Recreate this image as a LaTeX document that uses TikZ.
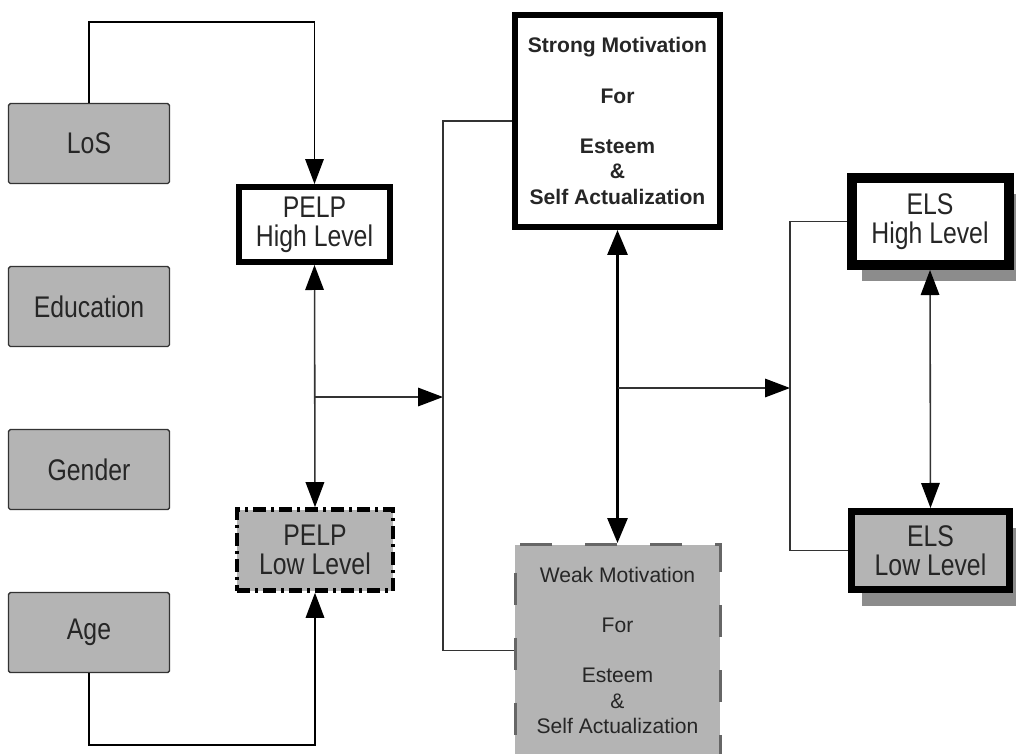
\documentclass[tikz,border=0pt]{standalone}
\usepackage{fontspec}
\setmainfont{Liberation Sans}
\newfontfamily\boxfont[FakeStretch=0.83]{Liberation Sans}
\usetikzlibrary{arrows.meta,shadows}
\definecolor{boxgray}{RGB}{180,180,180}
\definecolor{shadegray}{RGB}{140,140,140}
\begin{document}
\begin{tikzpicture}[factor style/.style={rectangle, draw=black!80, line width=0.8pt, fill=boxgray, rounded corners=1pt, minimum width=3.22cm, minimum height=1.6cm, text=black!85, font=\boxfont\fontsize{17}{16.5}\selectfont}, level style/.style={rectangle, draw, line width=3.4pt, minimum width=3.02cm, minimum height=1.5cm, align=center, text=black!85, font=\boxfont\fontsize{17}{16.5}\selectfont}, motiv style/.style={rectangle, minimum width=4.1cm, minimum height=4.24cm, align=center, text=black!85, font=\fontsize{12}{14.5}\selectfont}, els style/.style={level style, minimum width=3.14cm, drop shadow={shadow xshift=0.2cm, shadow yshift=-0.32cm, fill=shadegray, opacity=1}}, conn/.style={draw=black!80, line width=0.9pt}, tip/.style={-{Triangle[length=0.5cm, width=0.37cm, color=black]}}, both tips/.style={{Triangle[length=0.5cm, width=0.37cm, color=black]}-{Triangle[length=0.5cm, width=0.37cm, color=black]}}]
	\useasboundingbox (0,0) rectangle (20.32,-15.06);
	\node[factor style] (LoS) at (1.78, -2.87) {LoS};
	\node[factor style] (Edu) at (1.78, -6.13) {Education};
	\node[factor style] (Gen) at (1.78, -9.39) {Gender};
	\node[factor style] (Age) at (1.78, -12.65) {Age};
	\node[level style, fill=white] (PH) at (6.29, -4.49) {PELP\\High Level};
	\node[level style, fill=boxgray, line width=2.6pt, dash pattern=on 0.26cm off 0.1cm on 0.06cm off 0.1cm, minimum width=3.12cm, minimum height=1.62cm] (PL) at (6.3, -11.0) {PELP\\Low Level};
	\node[motiv style, draw, line width=3.4pt, fill=white, font=\bfseries\fontsize{12}{14.5}\selectfont] (SM) at (12.35, -2.42) {Strong Motivation\\[14pt]For\\[14pt]Esteem\\\&\\Self Actualization};
	\node[motiv style, draw=black!60, line width=1.7pt, dash pattern=on 0.64cm off 0.66cm, fill=boxgray] (WM) at (12.35, -13.01) {Weak Motivation\\[14pt]For\\[14pt]Esteem\\\&\\Self Actualization};
	\node[els style, fill=white, line width=5.7pt, minimum height=1.74cm] (EH) at (18.6, -4.43) {ELS\\High Level};
	\node[els style, fill=boxgray, line width=4pt, minimum width=3.16cm, minimum height=1.56cm] (EL) at (18.61, -11.01) {ELS\\Low Level};
	\coordinate (los turn) at (1.78, -0.44);
	\coordinate (age turn) at (1.78, -14.9);
	\coordinate (pelp split) at (6.29, -7.94);
	\coordinate (pelp bus) at (8.86, -7.94);
	\coordinate (motiv split) at (12.35, -7.76);
	\coordinate (els bus) at (15.8, -7.76);
	\draw[conn, draw=black, tip] (LoS.north) -- (los turn) -| (PH.north);
	\draw[conn, draw=black, tip] (Age.south) -- (age turn) -| (PL.south);
	\draw[conn, both tips] (PH.south) -- (PL.north);
	\draw[conn, tip] (pelp split) -- (pelp bus);
	\draw[conn] (SM.west) -| (pelp bus) |- (WM.west);
	\draw[conn, line width=1.7pt, draw=black, {Triangle[length=0.5cm, width=0.4cm]}-{Triangle[length=0.5cm, width=0.4cm]}] (SM.south) -- (WM.north);
	\draw[conn, tip] (motiv split) -- (els bus);
	\draw[conn] (EH.west) -| (els bus) |- (EL.west);
	\draw[conn, both tips] (EH.south) -- (EL.north);
\end{tikzpicture}
\end{document}
